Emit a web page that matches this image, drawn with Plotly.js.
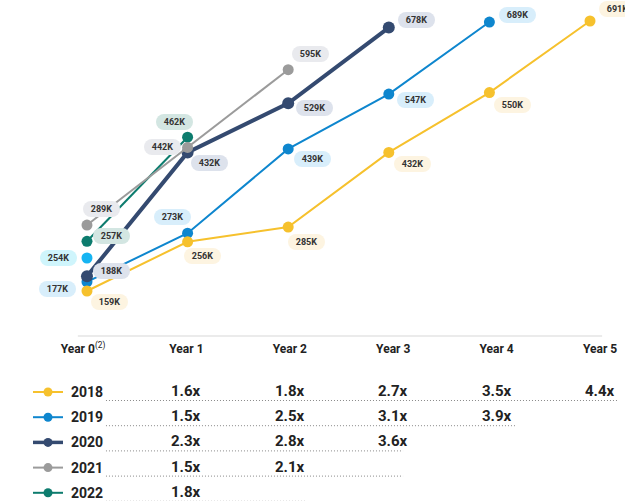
<!DOCTYPE html>
<html>
<head>
<meta charset="utf-8">
<script src="https://cdn.plot.ly/plotly-3.0.1.min.js"></script>
<style>
  html, body { margin: 0; padding: 0; background: #ffffff; }
  #chart { width: 625px; height: 501px; }
</style>
</head>
<body>
<div id="chart"></div>
<script>
// Period labels along the bottom
const yearLabels = ['Year 0<sup><span style="font-weight:normal">(2)</span></sup>', 'Year 1', 'Year 2', 'Year 3', 'Year 4', 'Year 5'];

// Cohort names
const cohorts = ['2018', '2019', '2020', '2021', '2022'];

// Customers (thousands) by years since cohort start
const customers2018 = [159, 256, 285, 432, 550, 691];
const customers2019 = [177, 273, 439, 547, 689];
const customers2020 = [188, 432, 529, 678];
const customers2021 = [289, 442, 595];
const customers2022 = [257, 462];

// Separate Year 0 figure shown beside the 2019 start
const extraYear0 = [254];

// Growth multiples vs Year 0, from Year 1 onward
const multiples2018 = [1.6, 1.8, 2.7, 3.5, 4.4];
const multiples2019 = [1.5, 2.5, 3.1, 3.9];
const multiples2020 = [2.3, 2.8, 3.6];
const multiples2021 = [1.5, 2.1];
const multiples2022 = [1.8];

const series = [customers2018, customers2019, customers2020, customers2021, customers2022];
const multiples = [multiples2018, multiples2019, multiples2020, multiples2021, multiples2022];

// Styling per cohort
const lineColors = ['#F6C12D', '#0E86CE', '#344A70', '#9B9B9B', '#0D7C6E'];
const pillColors = ['#FDF4E1', '#D8EEFB', '#DDE2EC', '#E9EAEE', '#D3E6E2'];
const lineWidths = [2, 2, 4, 2, 2];
const markerSizes = [11, 11, 12, 11, 11];
const extraColor = '#16B4F2';
const extraPill = '#CFF5FC';

// Pixel offsets of each value pill from its point [dx, dy] (dy down)
const pillOffsets = [
  [[23, 11], [15, 14], [18, 15], [24, 12], [23, 12], [27, -12]],
  [[-29, 7], [-15, -16], [24, 10], [27, 6], [28, -7]],
  [[25, -5], [22, 11], [26, 5], [28, -8]],
  [[15, -16], [-25, 0], [22, -16]],
  [[25, -5], [-13, -15]]
];
const extraOffset = [-28, 0];

// Drawing order (later on top)
const drawOrder = [1, 0, 2, 4, 3];

const FONT = 'Roboto, "Noto Sans", Arial, sans-serif';

const traces = [];
drawOrder.forEach(i => {
  const vals = series[i];
  traces.push({
    type: 'scatter',
    mode: 'lines+markers',
    name: cohorts[i],
    x: vals.map((_, k) => k),
    y: vals,
    xaxis: 'x',
    yaxis: 'y',
    line: { color: lineColors[i], width: lineWidths[i] },
    marker: { color: lineColors[i], size: markerSizes[i] },
    cliponaxis: false,
    hoverinfo: 'skip'
  });
});

traces.push({
  type: 'scatter',
  mode: 'markers',
  name: 'extra',
  x: [0],
  y: extraYear0,
  xaxis: 'x',
  yaxis: 'y2',
  marker: { color: extraColor, size: 11 },
  cliponaxis: false,
  hoverinfo: 'skip'
});

const annotations = [];
function pill(x, y, v, bg, off, yref) {
  annotations.push({
    x: x, y: y, xref: 'x', yref: yref,
    text: v + 'K',
    showarrow: false,
    xshift: off[0], yshift: -off[1],
    bgcolor: bg,
    width: 37, height: 16,
    borderpad: 0, borderwidth: 0,
    font: { family: FONT, size: 9, color: '#333333', weight: 700 }
  });
}
series.forEach((vals, i) => {
  vals.forEach((v, k) => pill(k, v, v, pillColors[i], pillOffsets[i][k], 'y'));
});
pill(0, extraYear0[0], extraYear0[0], extraPill, extraOffset, 'y2');

// Plot box in page pixels
const PLOT_LEFT = 40, PLOT_RIGHT = 620, PLOT_TOP = 10, PLOT_BOTTOM = 336;
const toPaperY = py => (PLOT_BOTTOM - py) / (PLOT_BOTTOM - PLOT_TOP);
const toPaperX = px => (px - PLOT_LEFT) / (PLOT_RIGHT - PLOT_LEFT);

// Multiples table rows
const rowTop = 392, rowStep = 25.2;
const dottedEnds = [5.164, 4.188, 3.095, 3.095, 2.157];

const shapes = [{
  type: 'line', xref: 'x2', yref: 'paper',
  x0: -0.05, x1: 5.02, y0: 0, y1: 0,
  line: { color: '#E4E4E4', width: 1.5 }
}];

cohorts.forEach((name, i) => {
  const py = rowTop + i * rowStep;

  // legend key: short line with a dot, then the cohort name
  shapes.push({
    type: 'line', xref: 'paper', yref: 'paper',
    x0: toPaperX(33), x1: toPaperX(63), y0: toPaperY(py), y1: toPaperY(py),
    line: { color: lineColors[i], width: i === 2 ? 3.5 : 2 }
  });
  shapes.push({
    type: 'circle', xref: 'paper', yref: 'paper',
    xsizemode: 'pixel', ysizemode: 'pixel',
    xanchor: toPaperX(48), yanchor: toPaperY(py),
    x0: -4.5, x1: 4.5, y0: -4.5, y1: 4.5,
    fillcolor: lineColors[i], line: { width: 0 }
  });
  annotations.push({
    x: toPaperX(69), y: toPaperY(py), xref: 'paper', yref: 'paper',
    text: name, showarrow: false, xanchor: 'left', yanchor: 'middle',
    font: { family: FONT, size: 14, color: '#222222', weight: 700 }
  });

  multiples[i].forEach((m, j) => {
    annotations.push({
      x: j + 1, y: toPaperY(py - 1), xref: 'x2', yref: 'paper',
      text: m.toFixed(1) + 'x',
      showarrow: false, xanchor: 'center', yanchor: 'middle',
      font: { family: FONT, size: 15, color: '#222222', weight: 700 }
    });
  });
  shapes.push({
    type: 'line', xref: 'x2', yref: 'paper',
    x0: 0.222, x1: dottedEnds[i],
    y0: toPaperY(py + 8.5), y1: toPaperY(py + 8.5),
    line: { color: '#8A8A8A', width: 1, dash: '1px,2px' }
  });
});

const layout = {
  width: 625, height: 501,
  margin: { l: PLOT_LEFT, r: 625 - PLOT_RIGHT, t: PLOT_TOP, b: 501 - PLOT_BOTTOM, pad: 0 },
  paper_bgcolor: '#ffffff', plot_bgcolor: '#ffffff',
  showlegend: false,
  xaxis: {
    range: [-0.467, 5.298], showgrid: false, zeroline: false, showline: false,
    showticklabels: false, ticks: '', fixedrange: true
  },
  xaxis2: {
    overlaying: 'x', anchor: 'y', side: 'bottom',
    range: [-0.416, 5.193], showgrid: false, zeroline: false, showline: false,
    tickmode: 'array', tickvals: yearLabels.map((_, k) => k), ticktext: yearLabels,
    ticks: '', ticklabelstandoff: 4,
    tickfont: { family: FONT, size: 12, color: '#222222', weight: 700 },
    fixedrange: true
  },
  yaxis: {
    range: [70.33, 712.7], showgrid: false, zeroline: false, showline: false,
    showticklabels: false, ticks: '', fixedrange: true
  },
  yaxis2: {
    overlaying: 'y', range: [100.3, 742.7], visible: false, fixedrange: true
  },
  annotations: annotations,
  shapes: shapes
};

function roundPills() {
  document.querySelectorAll('#chart .annotation rect.bg').forEach(r => {
    r.setAttribute('rx', 8);
    r.setAttribute('ry', 8);
  });
}

Plotly.newPlot('chart', traces, layout, { displayModeBar: false, staticPlot: true }).then(gd => {
  roundPills();
  gd.on('plotly_afterplot', roundPills);
});
</script>
</body>
</html>
